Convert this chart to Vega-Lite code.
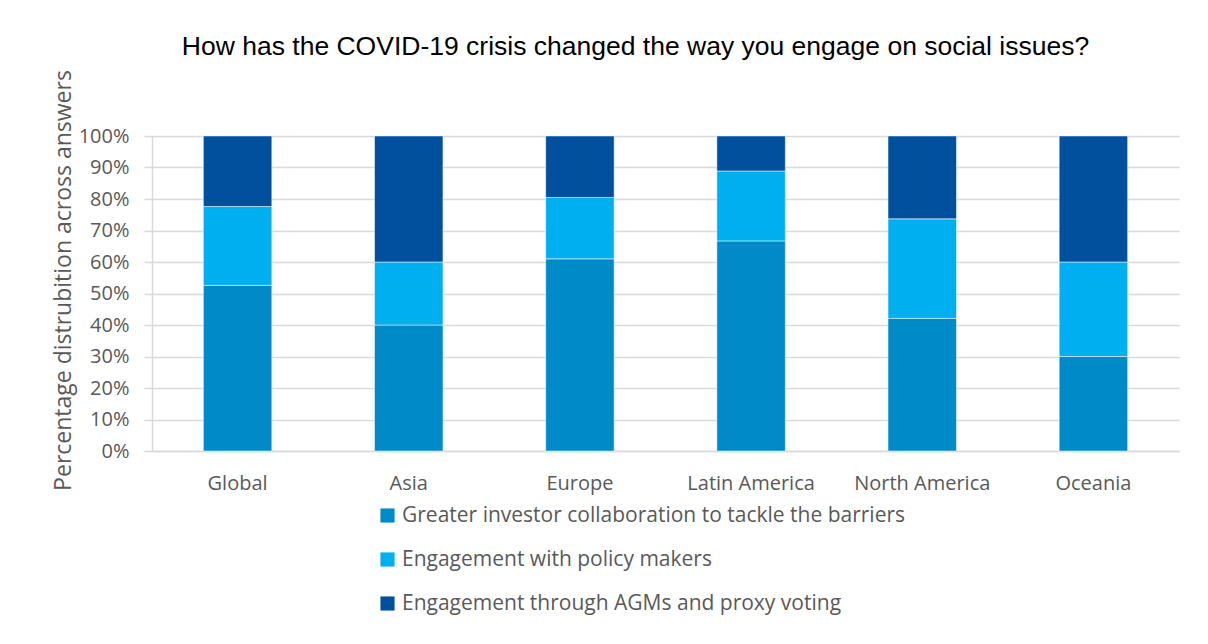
{
  "$schema": "https://vega.github.io/schema/vega-lite/v6.json",
  "width": 1027,
  "height": 315,
  "autosize": {"type": "none"},
  "padding": {"left": 152, "top": 136, "right": 29, "bottom": 193},
  "background": "white",
  "title": {
    "text": "How has the COVID-19 crisis changed the way you engage on social issues?",
    "font": "Liberation Sans",
    "fontSize": 26.5,
    "fontWeight": "normal",
    "color": "#000000",
    "anchor": "middle",
    "dx": -30,
    "offset": 9
  },
  "data": {
    "values": [
      {"region": "Global", "answer": "Greater investor collaboration to tackle the barriers", "share": 0.526},
      {"region": "Global", "answer": "Engagement with policy makers", "share": 0.25},
      {"region": "Global", "answer": "Engagement through AGMs and proxy voting", "share": 0.224},
      {"region": "Asia", "answer": "Greater investor collaboration to tackle the barriers", "share": 0.40},
      {"region": "Asia", "answer": "Engagement with policy makers", "share": 0.20},
      {"region": "Asia", "answer": "Engagement through AGMs and proxy voting", "share": 0.40},
      {"region": "Europe", "answer": "Greater investor collaboration to tackle the barriers", "share": 0.61},
      {"region": "Europe", "answer": "Engagement with policy makers", "share": 0.195},
      {"region": "Europe", "answer": "Engagement through AGMs and proxy voting", "share": 0.195},
      {"region": "Latin America", "answer": "Greater investor collaboration to tackle the barriers", "share": 0.667},
      {"region": "Latin America", "answer": "Engagement with policy makers", "share": 0.222},
      {"region": "Latin America", "answer": "Engagement through AGMs and proxy voting", "share": 0.111},
      {"region": "North America", "answer": "Greater investor collaboration to tackle the barriers", "share": 0.421},
      {"region": "North America", "answer": "Engagement with policy makers", "share": 0.316},
      {"region": "North America", "answer": "Engagement through AGMs and proxy voting", "share": 0.263},
      {"region": "Oceania", "answer": "Greater investor collaboration to tackle the barriers", "share": 0.30},
      {"region": "Oceania", "answer": "Engagement with policy makers", "share": 0.30},
      {"region": "Oceania", "answer": "Engagement through AGMs and proxy voting", "share": 0.40}
    ]
  },
  "mark": {"type": "bar", "stroke": "#ffffff", "strokeWidth": 0.5},
  "encoding": {
    "x": {
      "field": "region",
      "type": "nominal",
      "sort": ["Global", "Asia", "Europe", "Latin America", "North America", "Oceania"],
      "scale": {"paddingInner": 0.6, "paddingOuter": 0.3},
      "axis": {
        "title": null,
        "labelAngle": 0,
        "labelFont": "Open Sans",
        "labelFontSize": 20,
        "labelColor": "#595959",
        "labelPadding": 22,
        "ticks": false,
        "domainColor": "#D9D9D9",
        "domainWidth": 1.5,
        "grid": false
      }
    },
    "y": {
      "field": "share",
      "type": "quantitative",
      "stack": "zero",
      "scale": {"domain": [0, 1], "nice": false},
      "axis": {
        "title": "Percentage distrubition across answers",
        "titleFont": "Open Sans",
        "titleFontSize": 23,
        "titleFontWeight": "normal",
        "titleColor": "#595959",
        "titlePadding": 3,
        "titleY": 144,
        "format": ".0%",
        "values": [0, 0.1, 0.2, 0.3, 0.4, 0.5, 0.6, 0.7, 0.8, 0.9, 1],
        "labelOverlap": false,
        "labelFont": "Open Sans",
        "labelFontSize": 20,
        "labelColor": "#595959",
        "labelPadding": 15,
        "tickSize": 8,
        "tickColor": "#D9D9D9",
        "tickWidth": 1.5,
        "domainColor": "#D9D9D9",
        "domainWidth": 1.5,
        "gridColor": "#D9D9D9",
        "gridWidth": 1.5
      }
    },
    "color": {
      "field": "answer",
      "type": "nominal",
      "sort": ["Greater investor collaboration to tackle the barriers", "Engagement with policy makers", "Engagement through AGMs and proxy voting"],
      "scale": {
        "domain": ["Greater investor collaboration to tackle the barriers", "Engagement with policy makers", "Engagement through AGMs and proxy voting"],
        "range": ["#008AC7", "#00AFEF", "#00509E"]
      },
      "legend": {
        "title": null,
        "orient": "none",
        "direction": "vertical",
        "legendX": 225,
        "legendY": 369,
        "symbolType": "square",
        "symbolSize": 200,
        "symbolStrokeWidth": 0,
        "labelFont": "Open Sans",
        "labelFontSize": 21,
        "labelColor": "#595959",
        "labelLimit": 700,
        "rowPadding": 22,
        "labelOffset": 4
      }
    },
    "order": {"field": "answer", "sort": "descending"}
  },
  "config": {
    "view": {"stroke": null}
  }
}
